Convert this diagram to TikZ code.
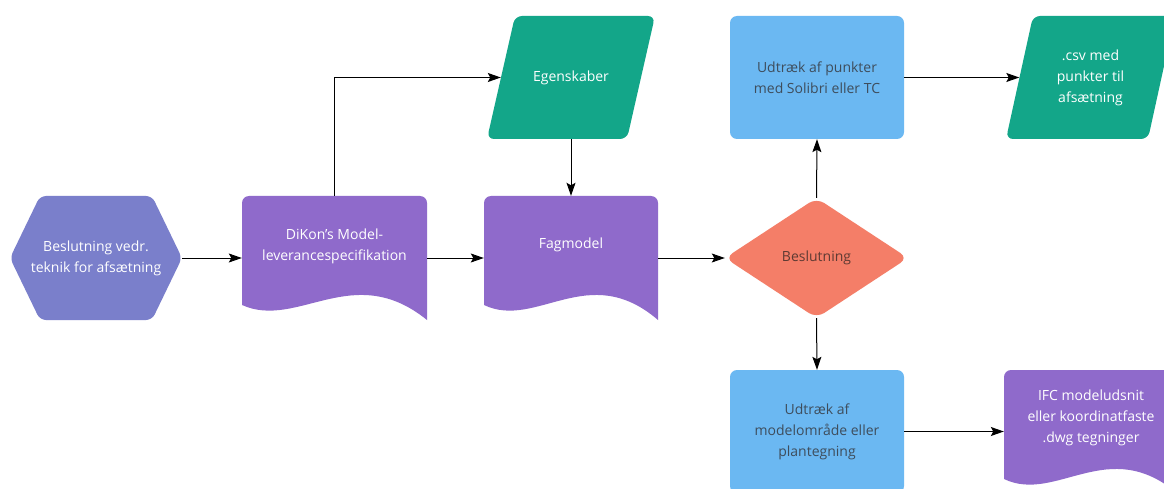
\documentclass[tikz,border=0pt]{standalone}
\usepackage{fontspec}
\setmainfont{Open Sans}
\usetikzlibrary{arrows.meta}
\definecolor{hexfill}{HTML}{7A7FCB}
\definecolor{docfill}{HTML}{8F6ACB}
\definecolor{greenfill}{HTML}{13A689}
\definecolor{bluefill}{HTML}{6BB8F2}
\definecolor{decfill}{HTML}{F47E68}
\definecolor{bluetext}{HTML}{3E4D5C}
\definecolor{dectext}{HTML}{5E3A33}
\newcommand\mydoc[4]{%
  \pgfmathsetmacro\wA{#1+0.6*(#3-#1)}%
  \pgfmathsetmacro\wB{#1+0.3*(#3-#1)}%
  \fill[docfill] (#1,#4-15) -- (#1,#2+7) arc(180:270:7) -- (#3-7,#2) arc(270:360:7) -- (#3,#4)
    .. controls (\wA,#4-60) and (\wB,#4+10) .. (#1,#4-15) -- cycle;}
\tikzset{
  lbl/.style={font=\fontsize{14}{21}\selectfont, align=center, text=white, inner sep=0pt},
  anchorbox/.style={rectangle, inner sep=0pt, draw=none},
  bluebox/.style={rectangle, rounded corners=7pt, fill=bluefill, minimum width=174pt, minimum height=123pt,
    inner sep=0pt, font=\fontsize{14}{21}\selectfont, align=center, text=bluetext},
  arr/.style={draw=black, line width=1pt, -{Stealth[length=13pt,width=9pt,inset=2.5pt]}},
}
\begin{document}
\begin{tikzpicture}[x=1pt,y=-1pt]
\useasboundingbox (0,0) rectangle (1164,489);
\clip (0,0) rectangle (1164,489);
\fill[white] (0,0) rectangle (1164,489);
% shapes
\fill[hexfill, rounded corners=6pt] (10,258) -- (40,196) -- (152,196) -- (182,258) -- (152,320) -- (40,320) -- cycle;
\mydoc{242}{196}{427}{320}
\mydoc{484}{196}{658}{320}
\mydoc{1004}{370}{1178}{494}
\fill[greenfill, rounded corners=7pt] (487,139) -- (515,16) -- (655,16) -- (627,139) -- cycle;
\fill[greenfill, rounded corners=7pt] (1006,139) -- (1033,16) -- (1175,16) -- (1148,139) -- cycle;
\fill[decfill, rounded corners=9pt] (725,258) -- (816.5,198) -- (908,258) -- (816.5,318) -- cycle;
% nodes
\node[anchorbox, minimum width=172pt, minimum height=124pt, lbl] (hex) at (96,258) {Beslutning vedr.\\teknik for afsætning};
\node[anchorbox, minimum width=185pt, minimum height=124pt] (dikon) at (334.5,258) {};
\node[lbl] (dikont) at (334.5,246) {DiKon\char"27 s Model-\\leverancespecifikation};
\node[anchorbox, minimum width=174pt, minimum height=124pt] (fag) at (571,258) {};
\node[lbl] (fagt) at (571,245) {Fagmodel};
\node[anchorbox, minimum width=140pt, minimum height=123pt, lbl] (egen) at (571,77.5) {Egenskaber};
\node[anchorbox, minimum width=183pt, minimum height=120pt, lbl, text=dectext] (dec) at (816.5,258) {Beslutning};
\node[bluebox] (udtr1) at (817,77.5) {Udtræk af punkter\\med Solibri eller TC};
\node[bluebox] (udtr2) at (817,431.5) {Udtræk af\\modelområde eller\\plantegning};
\node[anchorbox, minimum width=142pt, minimum height=123pt, lbl] (csv) at (1090.5,77.5) {.csv med\\punkter til\\afsætning};
\node[anchorbox, minimum width=174pt, minimum height=124pt] (ifc) at (1091,432) {};
\node[lbl] (ifct) at (1091,418) {IFC modeludsnit\\eller koordinatfaste\\.dwg tegninger};
% connectors
\draw[arr] (hex.east) -- (dikon.west);
\draw[arr] (dikon.east) -- (fag.west);
\draw[arr] (dikon.north) |- (egen.west);
\draw[arr] (egen.south) -- (fag.north);
\draw[arr] (fag.east) -- (dec.west);
\draw[arr] (dec.north) -- (udtr1.south);
\draw[arr] (dec.south) -- (udtr2.north);
\draw[arr] (udtr1.east) -- (udtr1.east -| csv.west);
\draw[arr] (udtr2.east) -- (udtr2.east -| ifc.west);
\end{tikzpicture}
\end{document}
